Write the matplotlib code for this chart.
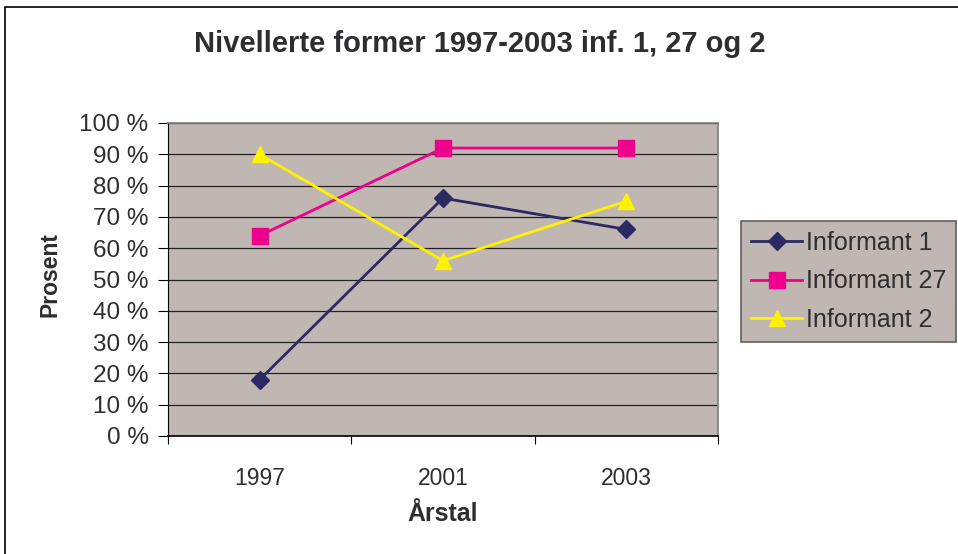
import matplotlib
matplotlib.use("Agg")
import matplotlib.pyplot as plt
from matplotlib.patches import Rectangle

years = ["1997", "2001", "2003"]
inf1 = [18, 76, 66]
inf27 = [64, 92, 92]
inf2 = [90, 56, 75]
series_names = ["Informant 1", "Informant 27", "Informant 2"]
yticks = list(range(0, 101, 10))

plt.rcParams['font.family'] = ['Liberation Sans', 'DejaVu Sans']
txt = '#2E2E30'

fig = plt.figure(figsize=(9.58, 5.54), dpi=100)
fig.patch.set_facecolor('white')

# outer chart border
fig.add_artist(Rectangle((5/958, -0.05), 1.2, 1 - 7/554 + 0.05, transform=fig.transFigure,
                         fill=False, edgecolor='black', linewidth=1.2))

ax = fig.add_axes([168/958, 1 - 436/554, (718 - 168)/958, (436 - 123)/554])
bg = '#C0B7B3'
ax.set_facecolor(bg)

x = [0.5, 1.5, 2.5]
ax.plot(x, inf1, color='#2B2A63', lw=2, marker='D', markersize=9, label=series_names[0], zorder=3)
ax.plot(x, inf27, color='#EC008C', lw=2, marker='s', markersize=11, label=series_names[1], zorder=3)
ax.plot(x, inf2, color='#FFF200', lw=2, marker='^', markersize=12, label=series_names[2], zorder=3)

ax.set_xlim(0, 3)
ax.set_ylim(0, 100)
ax.set_yticks(yticks)
ax.set_yticklabels([f"{v} %" for v in yticks], fontsize=17.5, color=txt)
ax.set_xticks([0, 1, 2, 3])
ax.set_xticklabels([])
ax.set_xticks(x, minor=True)
ax.set_xticklabels(years, minor=True, fontsize=16.5, color=txt)
ax.tick_params(axis='x', which='minor', length=0, pad=22)
ax.tick_params(axis='x', which='major', length=6, direction='out', color='black')
ax.tick_params(axis='y', length=7, direction='out', color='black', pad=7)

ax.grid(axis='y', color='#222222', linewidth=0.9)
ax.set_axisbelow(True)
for s in ['top', 'right']:
    ax.spines[s].set_color('#808080')
    ax.spines[s].set_linewidth(1.2)
ax.spines['left'].set_color('black')
ax.spines['bottom'].set_color('black')
ax.spines['bottom'].set_linewidth(1.2)

ax.set_ylabel("Prosent", fontsize=16.5, fontweight='bold', color=txt)
ax.yaxis.set_label_coords((61 - 168) / 550, (436 - 275) / 313)
ax.set_xlabel("Årstal", fontsize=18, fontweight='bold', labelpad=9, color=txt)

fig.text(480/958, 1 - 44/554, "Nivellerte former 1997-2003 inf. 1, 27 og 2",
         ha='center', va='center', fontsize=21, fontweight='bold', color=txt)

leg = fig.legend(loc='upper left', bbox_to_anchor=(741/958, 1 - 221/554), fontsize=18,
                 frameon=True, fancybox=False, facecolor=bg, edgecolor='#606060',
                 handlelength=2.05, handletextpad=0.15, borderpad=0.4, labelspacing=0.58,
                 borderaxespad=0, labelcolor=txt)
leg.get_frame().set_linewidth(1.2)
leg.get_frame().set_alpha(1)

fig.savefig("out.png", dpi=100, facecolor='white')
